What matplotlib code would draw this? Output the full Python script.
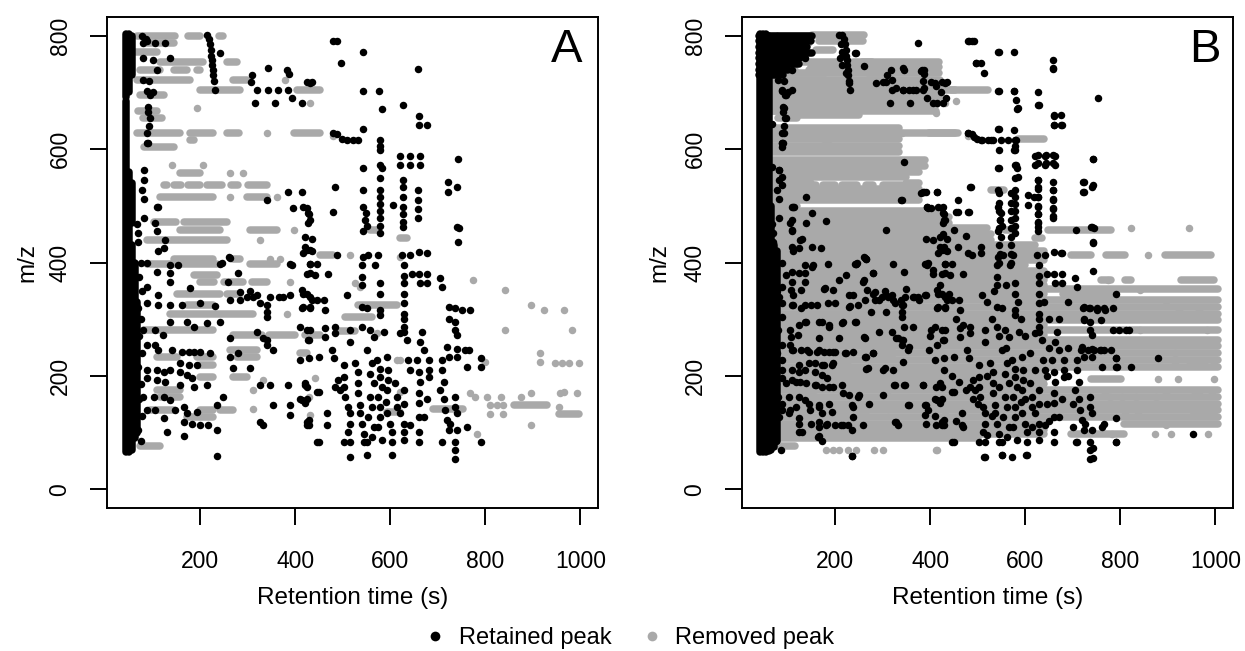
import matplotlib
matplotlib.use('Agg')
import matplotlib.pyplot as plt
from matplotlib.lines import Line2D

plt.rcParams['font.family'] = ['Liberation Sans', 'DejaVu Sans']

BLACK = '#000000'
GRAY = '#a9a9a9'

# ---------------- Panel A : retained peaks (rt, m/z) ----------------
a_ret = [
    (78, 800), (85, 795), (80, 787), (88, 790), (105, 787), (126, 787), (80, 761), (101, 757), (137, 761),
    (109, 740), (80, 722), (92, 720), (88, 702), (101, 700), (95, 695),
    (214, 801), (218, 795), (220, 785), (222, 775), (222, 765), (224, 757), (225, 748), (226, 740),
    (228, 730), (230, 720), (232, 705), (242, 769),
    (309, 731), (308, 718), (343, 743), (383, 740), (386, 733), (425, 718), (431, 717), (436, 718),
    (320, 704), (343, 704), (364, 704), (385, 704), (393, 690), (316, 681), (358, 681), (414, 681),
    (91, 674), (95, 655), (88, 628), (88, 611), (112, 498), (341, 510), (385, 524), (414, 524), (396, 496),
    (425, 496), (428, 485), (431, 475), (421, 445), (435, 442), (421, 428), (432, 422), (389, 398),
    (260, 410), (242, 398),
    (480, 791), (488, 791), (543, 771), (497, 752), (543, 703), (577, 703), (583, 670), (627, 678),
    (659, 741), (661, 658), (661, 642), (678, 642),
    (480, 628), (487, 626), (498, 618), (508, 616), (522, 616), (533, 616), (543, 635),
    (579, 616), (579, 605), (579, 598),
    (621, 588), (642, 588), (663, 588), (621, 572), (642, 572), (663, 572),
    (743, 582), (543, 566), (579, 572), (582, 566), (579, 549),
    (627, 545), (627, 533), (627, 516), (659, 528), (659, 511), (659, 494), (659, 478),
    (722, 542), (722, 524), (741, 533), (484, 533), (480, 489), (543, 528),
    (579, 528), (579, 515), (579, 503), (579, 490), (579, 478), (579, 465), (579, 452),
    (543, 498), (548, 488), (546, 475), (551, 465), (543, 455),
    (606, 501), (627, 498), (627, 485), (627, 472), (627, 462),
    (741, 462), (745, 460), (743, 436),
    (417, 498), (427, 488), (427, 469), (425, 422), (436, 420),
    # near the main column
    (91, 666), (93, 640), (91, 610), (81, 563), (81, 545), (78, 527), (81, 512), (109, 498),
    (81, 478), (67, 468), (70, 452), (106, 470), (109, 455), (126, 440), (123, 425), (112, 420),
    (70, 436), (75, 400), (72, 375), (78, 350), (70, 320), (76, 300), (72, 270), (78, 240),
    (70, 215), (76, 185), (72, 160), (78, 130), (70, 105), (75, 85),
    # middle band
    (88, 399), (109, 383), (137, 395), (154, 395), (137, 381), (137, 365), (88, 357), (112, 342),
    (179, 355), (88, 328), (112, 325), (137, 325), (162, 325), (200, 328), (232, 323), (246, 399),
    (263, 408), (259, 365), (280, 381), (263, 334), (284, 334),
    (284, 348), (298, 339), (312, 339), (305, 350), (319, 343), (326, 328), (340, 325), (340, 313), (340, 304),
    (347, 339), (365, 339), (375, 339), (389, 342), (393, 396),
    (417, 416), (431, 398), (431, 381), (417, 345), (431, 339), (417, 322), (431, 322),
    (80, 281), (105, 281), (122, 272), (137, 295), (172, 295), (186, 286), (215, 293), (242, 295), (263, 266),
    (320, 277), (333, 266), (340, 263), (340, 254), (354, 245), (411, 286), (431, 281), (427, 263),
    (88, 254), (105, 254), (112, 245), (141, 245), (162, 242), (176, 242), (186, 242), (200, 242),
    (221, 240), (263, 233), (280, 240),
    (158, 222), (176, 219), (193, 219), (88, 210), (109, 210), (123, 207), (137, 210), (158, 207),
    (172, 201), (183, 196), (88, 196), (109, 193), (126, 189),
    (158, 184), (186, 181), (215, 184), (270, 214), (305, 214), (326, 184), (347, 184), (385, 184),
    (421, 184), (446, 171),
    (80, 162), (102, 162), (123, 162), (248, 162), (137, 157), (354, 148), (389, 148), (414, 157), (421, 152),
    (88, 139), (105, 139), (123, 125), (147, 139), (165, 145), (172, 134), (193, 136), (235, 148), (389, 131),
    (165, 118), (183, 116), (200, 113), (217, 113), (235, 104), (130, 101), (165, 94), (326, 118),
    (333, 113), (425, 118), (428, 113), (235, 58), (446, 83),
    # right part
    (488, 413), (554, 413), (575, 413), (624, 413), (642, 413), (660, 419), (677, 416),
    (432, 398), (446, 398), (424, 380), (442, 378), (470, 380),
    (540, 395), (540, 374), (540, 360), (543, 410), (568, 395), (579, 363), (579, 345),
    (628, 395), (628, 377), (628, 363), (628, 345), (628, 328), (628, 310), (628, 301), (628, 287), (628, 278),
    (646, 380), (660, 380), (677, 380), (663, 363), (677, 363), (705, 372), (709, 357),
    (414, 351), (424, 345), (435, 334), (446, 334), (460, 334), (463, 316), (414, 319), (432, 319),
    (509, 343), (540, 322), (551, 319), (579, 307), (579, 316),
    (723, 322), (737, 319), (751, 317), (768, 317), (723, 301), (737, 295), (737, 281), (740, 272),
    (424, 281), (428, 263), (463, 284), (463, 269), (484, 275), (484, 287), (516, 281), (516, 260),
    (540, 287), (558, 281), (565, 269), (586, 278), (621, 275), (635, 263), (667, 278), (663, 260), (670, 245),
    (410, 228), (428, 231), (449, 234), (477, 245), (481, 231),
    (502, 219), (502, 198), (491, 192), (495, 175), (505, 163), (512, 145), (516, 134), (516, 116),
    (512, 101), (502, 84), (516, 84),
    (526, 222), (533, 207), (533, 187), (533, 169), (537, 148), (537, 134), (540, 116), (544, 98), (544, 84), (551, 84),
    (551, 245), (561, 222), (558, 204), (565, 187), (558, 163), (561, 145), (554, 128), (565, 110), (561, 92),
    (572, 228), (579, 213), (579, 198), (582, 181), (575, 163), (579, 145), (579, 128), (575, 110), (582, 87),
    (593, 234), (596, 210), (596, 192), (593, 175), (590, 154), (593, 134), (600, 116), (604, 101),
    (610, 187), (614, 163), (614, 145), (621, 134),
    (628, 175), (628, 151), (628, 116), (628, 101), (628, 87),
    (638, 228), (642, 210), (656, 228), (660, 207), (663, 189), (660, 169), (660, 152), (660, 128),
    (660, 101), (660, 84),
    (681, 228), (681, 210), (681, 198), (677, 160), (670, 128),
    (709, 228), (709, 210), (712, 189), (705, 175), (712, 160), (716, 139), (719, 122), (723, 104),
    (737, 84), (737, 69), (737, 54),
    (719, 251), (740, 248), (758, 245), (765, 245), (723, 234), (740, 234),
    (761, 216), (790, 231), (790, 215),
    (737, 163), (737, 145), (740, 134), (726, 116), (740, 104), (761, 110), (790, 84),
    (709, 84), (604, 84), (604, 60), (551, 60), (516, 57), (449, 84),
    (466, 134), (466, 113), (428, 122), (424, 113),
    (410, 160), (424, 160), (449, 172), (421, 187), (424, 181), (642, 113), (484, 180), (502, 180),
]

# dense retained column near the start of the run: (rt, m/z low, m/z high)
a_ret_col = [
    (45, 66, 685), (45, 692, 803), (51, 66, 560), (51, 700, 803), (57, 70, 430), (57, 470, 540),
    (57, 730, 800), (63, 90, 400), (68, 100, 330),
]

# ---------------- Panel A : removed peaks ----------------
a_rem = [
    (193, 672), (140, 572), (206, 572), (263, 557), (291, 557), (263, 516), (361, 516), (397, 457),
    (326, 440), (347, 407), (368, 407), (379, 722), (340, 628), (390, 366), (383, 310), (312, 142),
    (431, 681), (480, 623), (516, 413), (775, 369), (842, 351), (895, 325), (923, 316), (965, 316),
    (842, 281), (983, 281), (916, 240), (916, 225), (800, 225), (958, 170), (965, 172), (993, 170),
    (955, 146), (810, 148), (824, 148), (838, 148), (810, 133), (838, 133), (895, 113), (783, 98),
    (333, 192), (442, 196), (428, 162), (312, 175), (526, 363), (537, 357), (614, 228), (621, 228),
    (621, 410), (432, 131), (621, 172), (572, 275),
    (768, 169), (779, 163), (804, 163), (832, 163), (874, 163), (895, 169),
    (947, 222), (962, 222), (976, 222), (997, 222),
]

# runs of removed peaks sharing one m/z: (m/z, rt start, rt end)
a_rem_row = [
    (800, 67, 147), (800, 175, 200), (800, 239, 249), (787, 88, 144), (772, 60, 109),
    (754, 116, 207), (754, 256, 277), (740, 74, 116), (740, 144, 172), (740, 193, 200),
    (722, 67, 179), (722, 270, 298), (704, 200, 284), (704, 404, 453), (695, 74, 123),
    (668, 70, 110), (655, 80, 120),
    (628, 67, 158), (628, 179, 228), (628, 256, 281), (628, 397, 453), (616, 179, 186), (604, 81, 144),
    (557, 158, 200),
    (537, 123, 130), (537, 145, 160), (537, 175, 200), (537, 215, 245), (537, 265, 280), (537, 300, 340),
    (516, 116, 228), (516, 298, 340),
    (472, 102, 150), (472, 165, 256),
    (457, 158, 242), (457, 305, 361), (457, 558, 572),
    (440, 88, 256), (443, 621, 636),
    (407, 144, 228), (407, 270, 284), (413, 453, 480),
    (398, 88, 235), (398, 305, 362), (378, 186, 235),
    (366, 200, 230), (366, 250, 290), (366, 310, 340),
    (345, 151, 242), (345, 256, 284), (325, 172, 228), (325, 533, 614),
    (310, 137, 312), (303, 505, 561), (281, 81, 228), (280, 488, 526),
    (272, 270, 330), (272, 345, 400), (272, 420, 453),
    (245, 263, 319), (240, 410, 424),
    (234, 109, 151), (234, 193, 228), (234, 277, 319), (219, 200, 228),
    (198, 200, 228), (198, 270, 298), (175, 109, 158), (163, 116, 158),
    (148, 860, 930), (142, 690, 754),
    (140, 95, 144), (140, 200, 228), (140, 242, 270), (137, 593, 621), (132, 955, 997),
    (128, 172, 228), (76, 74, 116),
]

# ---------------- Panel B : extra retained peaks ----------------
b_ret_extra = [
    (374, 788), (261, 746), (209, 801), (212, 785), (215, 772), (210, 760), (214, 748), (223, 735), (230, 716),
    (244, 770),
    (286, 716), (300, 718), (317, 740), (320, 722), (327, 707), (342, 704), (345, 740), (356, 704),
    (370, 704), (380, 737), (384, 720), (386, 708), (409, 716),
    (89, 704), (96, 695), (110, 704), (93, 672), (96, 654), (68, 645), (93, 628), (89, 610), (89, 604),
    (345, 578), (68, 569), (82, 563), (89, 551), (89, 537), (138, 516), (114, 498), (110, 475), (110, 457),
    (138, 469), (152, 487), (180, 473), (131, 442), (152, 428), (170, 425), (110, 428), (307, 457),
    (244, 398), (265, 407), (338, 510), (380, 522), (391, 524), (394, 498), (401, 496), (391, 442), (405, 440),
    (482, 791), (493, 791), (545, 771), (577, 771), (496, 751), (507, 751), (514, 734), (658, 757), (658, 743),
    (387, 740), (401, 719), (412, 712), (422, 700), (433, 690), (405, 681), (426, 681),
    (545, 703), (577, 703), (580, 687), (584, 672), (626, 701), (629, 678), (752, 690),
    (661, 660), (661, 643), (675, 660), (675, 643),
    (479, 628), (493, 622), (507, 616), (528, 616), (545, 635), (549, 616), (563, 616), (577, 634), (580, 616),
    (545, 598), (577, 598), (545, 566), (580, 572), (584, 551),
    (626, 590), (643, 590), (658, 590), (626, 575), (643, 575), (658, 575),
    (742, 582), (724, 542), (724, 524), (742, 536),
    (626, 545), (626, 530), (626, 515), (626, 500), (626, 485), (626, 470), (626, 455),
    (658, 542), (658, 527), (658, 512), (658, 497), (658, 482),
    (486, 533), (458, 510), (458, 489), (482, 489),
    (545, 522), (545, 505), (545, 490), (547, 475), (545, 460), (549, 445), (545, 430), (547, 415), (545, 400),
    (570, 522), (570, 505), (570, 490), (570, 475), (570, 460), (570, 445), (570, 430), (570, 415), (570, 400),
    (605, 519), (619, 516), (707, 457), (738, 463), (742, 435),
    (387, 525), (415, 525), (394, 498), (426, 498), (430, 475), (454, 489),
    (426, 451), (430, 428), (450, 457), (458, 428), (475, 446), (507, 428), (479, 416), (507, 416), (675, 416),
    (96, 378), (110, 366), (124, 381), (107, 351), (128, 351), (152, 392), (184, 398), (244, 398), (265, 407),
    (279, 381), (209, 369), (223, 378), (261, 369), (321, 398), (345, 384), (391, 398), (405, 387),
    (82, 340), (110, 325), (128, 319), (149, 325), (184, 328), (177, 354), (195, 351), (230, 342), (237, 342),
    (268, 351), (279, 345), (293, 334), (307, 342), (321, 334), (338, 334), (363, 340), (377, 334), (391, 342),
    (349, 354), (342, 325), (307, 313), (275, 313), (247, 325), (230, 322),
    (89, 304), (124, 290), (138, 295), (166, 295), (187, 290), (216, 295), (244, 295), (293, 278), (328, 266),
    (342, 263), (356, 251), (345, 287), (363, 287), (402, 281),
    (107, 269), (166, 266), (209, 266), (261, 269),
    (110, 245), (128, 245), (145, 242), (166, 245), (195, 242), (223, 240), (237, 242), (265, 234), (279, 240),
    (342, 225), (398, 245),
    (89, 228), (124, 219), (145, 222), (173, 219), (195, 222), (265, 213), (300, 210), (321, 210),
    (75, 192), (96, 187), (117, 189), (138, 187), (159, 184), (173, 181), (195, 181), (216, 169), (230, 166),
    (251, 166), (272, 151), (300, 166), (324, 184), (345, 184), (384, 184), (412, 181),
    (89, 151), (117, 145), (145, 151), (166, 148), (187, 151), (237, 145), (356, 148), (391, 148),
    (82, 128), (103, 134), (124, 116), (149, 116), (166, 110), (180, 113), (212, 113), (237, 128), (258, 113),
    (328, 119), (391, 116), (412, 113), (124, 101), (163, 92), (173, 86), (226, 113), (87, 69), (235, 59),
    (742, 385), (791, 345), (721, 319), (735, 319), (750, 319), (765, 319), (784, 319), (724, 298), (759, 298),
    (784, 281), (798, 281), (812, 281), (819, 281), (717, 245), (731, 245), (745, 245), (760, 245), (780, 245),
    (791, 231), (794, 216), (822, 216), (879, 231), (952, 98), (766, 116), (791, 125), (791, 84), (742, 72),
    (742, 56), (707, 84), (514, 57), (552, 60), (573, 57), (601, 60),
    (395, 400), (405, 380), (420, 360), (440, 345), (455, 300), (470, 290), (400, 270), (415, 255),
    (430, 210), (445, 200), (460, 190), (475, 175), (490, 160), (500, 150), (395, 140), (410, 130),
    (455, 120), (470, 110), (520, 330), (530, 300), (545, 270), (560, 250), (520, 200), (530, 130),
    (545, 180), (590, 300), (600, 270), (610, 240), (620, 210), (600, 160), (615, 110), (520, 95),
    (535, 350), (560, 360), (585, 330), (640, 330), (650, 300), (650, 250), (645, 200), (645, 150),
    (650, 120), (670, 300), (690, 250), (690, 200), (700, 150), (700, 110), (690, 330),
]

b_ret_col = [
    (42, 66, 803), (48, 66, 803), (54, 66, 803), (60, 68, 800), (66, 70, 500), (72, 75, 430), (78, 85, 420),
]

# runs of retained peaks at one m/z (dense block, top left of B)
b_ret_row = [
    (800, 39, 152), (790, 39, 150), (780, 39, 140), (770, 39, 152), (760, 39, 125), (750, 39, 124),
    (740, 39, 100), (730, 39, 90),
]

# ---------------- Panel B : removed peaks ----------------
b_rem = [
    (822, 460), (945, 460), (858, 413), (879, 195), (921, 195), (998, 195), (872, 98), (907, 98), (984, 98),
    (180, 69), (195, 69), (209, 69), (227, 69), (244, 69), (282, 69), (300, 69), (412, 69), (415, 69),
    (454, 684), (412, 663),
]

b_rem_row = [
    (801, 152, 261), (790, 166, 258), (775, 159, 195), (754, 237, 419), (744, 150, 419), (734, 54, 419),
    (722, 54, 420), (712, 54, 420), (704, 54, 420), (704, 443, 521), (698, 54, 420), (688, 54, 420),
    (678, 54, 412), (668, 54, 412), (660, 96, 250), (638, 54, 335), (628, 54, 458), (617, 54, 335),
    (617, 584, 640), (605, 54, 335), (595, 54, 335), (580, 54, 390), (570, 54, 390), (560, 54, 377),
    (550, 54, 350), (540, 54, 150), (540, 350, 377), (530, 54, 377), (528, 528, 556), (520, 54, 377),
    (510, 54, 377), (500, 54, 120), (490, 54, 420), (480, 54, 440), (470, 54, 440), (460, 54, 520),
    (457, 647, 780), (450, 54, 528), (440, 54, 528), (430, 54, 620), (420, 54, 640),
    (413, 54, 640), (413, 696, 738), (413, 770, 809), (413, 893, 991), (405, 54, 640), (395, 54, 600),
    (385, 54, 640), (375, 54, 640), (369, 54, 640), (369, 759, 780), (369, 809, 823), (369, 928, 998),
    (360, 54, 640), (354, 54, 1005), (345, 54, 640), (345, 680, 780), (334, 54, 1005), (322, 54, 1005),
    (310, 54, 1005), (298, 54, 1005), (290, 54, 640), (281, 54, 1005), (272, 54, 640), (263, 54, 1005),
    (252, 54, 1005), (240, 54, 1005), (228, 54, 1005), (216, 54, 1005), (205, 54, 640), (195, 54, 640),
    (195, 738, 801), (185, 54, 640), (175, 54, 1005), (163, 54, 1005), (151, 54, 1005), (140, 54, 1005),
    (128, 54, 1005), (116, 54, 640), (116, 808, 1005), (105, 54, 640), (98, 54, 640), (98, 696, 808),
    (90, 82, 500),
]

x_ticks = [200, 400, 600, 800, 1000]
y_ticks = [0, 200, 400, 600, 800]
panel_labels = ['A', 'B']
legend_labels = ['Retained peak', 'Removed peak']

W, H = 1245, 651
MS = 5.4
fig = plt.figure(figsize=(W / 100, H / 100), dpi=100)


def unzip(pairs):
    return [p[0] for p in pairs], [p[1] for p in pairs]


def draw_panel(ax, rem_pts, rem_rows, ret_pts, ret_rows, ret_cols):
    if rem_rows:
        ax.hlines([r[0] for r in rem_rows], [r[1] for r in rem_rows], [r[2] for r in rem_rows],
                  colors=GRAY, linewidth=MS, capstyle='round', zorder=2)
    x, y = unzip(rem_pts)
    ax.plot(x, y, 'o', color=GRAY, ms=MS, mew=0, zorder=2)
    if ret_rows:
        ax.hlines([r[0] for r in ret_rows], [r[1] for r in ret_rows], [r[2] for r in ret_rows],
                  colors=BLACK, linewidth=MS, capstyle='round', zorder=3)
    ax.vlines([c[0] for c in ret_cols], [c[1] for c in ret_cols], [c[2] for c in ret_cols],
              colors=BLACK, linewidth=MS, capstyle='round', zorder=3)
    x, y = unzip(ret_pts)
    ax.plot(x, y, 'o', color=BLACK, ms=MS, mew=0, zorder=3)


def style_axes(ax):
    ax.set_xlim(4, 1037)
    ax.set_ylim(-33, 833)
    ax.set_xticks(x_ticks)
    ax.set_yticks(y_ticks)
    for s in ax.spines.values():
        s.set_linewidth(1.4)
    ax.tick_params(direction='out', length=12, width=1.4, labelsize=16.5, colors='black')
    ax.tick_params(axis='x', pad=18.5)
    ax.tick_params(axis='y', pad=13.5, labelrotation=90)
    for lbl in ax.get_yticklabels():
        lbl.set_va('center')


axA = fig.add_axes([107 / W, (H - 508) / H, 491 / W, 491 / H])
axB = fig.add_axes([742 / W, (H - 508) / H, 491 / W, 491 / H])

draw_panel(axA, a_rem, a_rem_row, a_ret, [], a_ret_col)
draw_panel(axB, a_rem + b_rem, a_rem_row + b_rem_row, a_ret + b_ret_extra, b_ret_row, b_ret_col)

for ax, lab, cx in [(axA, panel_labels[0], 567), (axB, panel_labels[1], 1205)]:
    style_axes(ax)
    fig.text(cx / W, 1 - 50 / H, lab, ha='center', va='center', fontsize=34)

fig.text(352.5 / W, 1 - 598 / H, 'Retention time (s)', ha='center', va='center', fontsize=17.5)
fig.text(987.5 / W, 1 - 598 / H, 'Retention time (s)', ha='center', va='center', fontsize=17.5)
fig.text(27 / W, 1 - 262.5 / H, 'm/z', ha='center', va='center', rotation=90, fontsize=17.5)
fig.text(659 / W, 1 - 262.5 / H, 'm/z', ha='center', va='center', rotation=90, fontsize=17.5)

handles = [Line2D([], [], marker='o', ls='none', color=BLACK, ms=7, mew=0),
           Line2D([], [], marker='o', ls='none', color=GRAY, ms=7, mew=0)]
fig.legend(handles, legend_labels, loc='center', bbox_to_anchor=(630 / W, 1 - 638 / H), ncol=2,
           frameon=False, fontsize=17, handlelength=0.8, handletextpad=0.6, columnspacing=1.3,
           borderpad=0, borderaxespad=0)

fig.savefig('out.png', dpi=100)
